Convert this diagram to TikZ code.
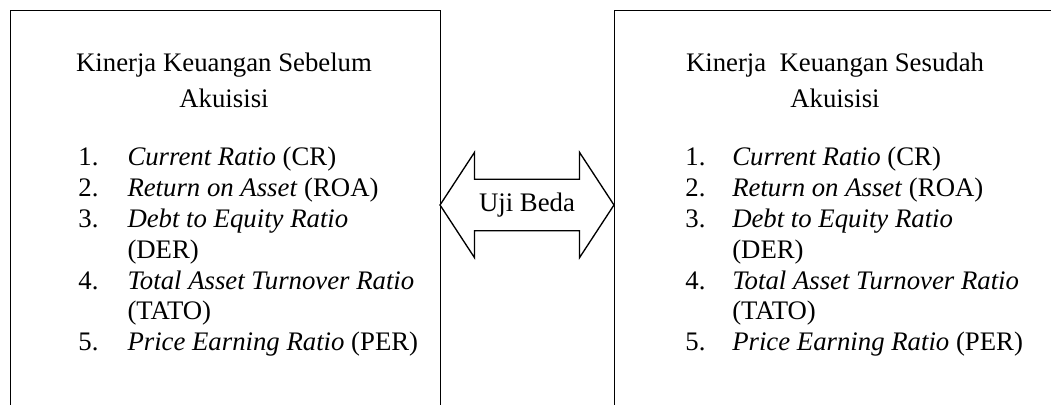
\documentclass[tikz,border=0pt]{standalone}
\usepackage{fontspec}
\setmainfont{Liberation Serif}
\usetikzlibrary{shapes.arrows}

\begin{document}
\begin{tikzpicture}[x=0.4484pt, y=-0.4484pt, font=\fontsize{12}{13.8}\selectfont,
	box/.style={draw, line width=0.6pt, rectangle, inner sep=0pt, anchor=north west},
	judul/.style={anchor=base, inner sep=0pt},
	daftar/.style={anchor=base west, inner sep=0pt}]
		\useasboundingbox (0,0) rectangle (1051,405);
		\clip (0,0) rectangle (1051,405);
		
		\node[box, minimum width=192.8pt, minimum height=200pt] (sebelum) at (10,10) {};
		\node[box, minimum width=200pt, minimum height=200pt] (sesudah) at (614,10) {};
		
		\node[judul] (judulsebelum) at (224,72) {\begin{tabular}[t]{@{}c@{}}Kinerja Keuangan Sebelum\\[1.9pt] Akuisisi\end{tabular}};
		\node[judul] (judulsesudah) at (835,72) {\begin{tabular}[t]{@{}c@{}}Kinerja\ \ Keuangan Sesudah\\[1.9pt] Akuisisi\end{tabular}};
		
		\node[daftar] (rasiosebelum) at (78,166) {\begin{tabular}[t]{@{}p{22pt}@{}l@{}}
			1. & \textit{Current Ratio} (CR)\\
			2. & \textit{Return on Asset} (ROA)\\
			3. & \textit{Debt to Equity Ratio}\\
			   & (DER)\\
			4. & \textit{Total Asset Turnover Ratio}\\
			   & (TATO)\\
			5. & \textit{Price Earning Ratio} (PER)
		\end{tabular}};
		\node[daftar] (rasiosesudah) at (685,166) {\begin{tabular}[t]{@{}p{21pt}@{}l@{}}
			1. & \textit{Current Ratio} (CR)\\
			2. & \textit{Return on Asset} (ROA)\\
			3. & \textit{Debt to Equity Ratio}\\
			   & (DER)\\
			4. & \textit{Total Asset Turnover Ratio}\\
			   & (TATO)\\
			5. & \textit{Price Earning Ratio} (PER)
		\end{tabular}};
		
		\node[draw, double arrow, line width=0.6pt, fill=white, inner xsep=2pt, inner ysep=5.8pt,
			minimum height=78pt, double arrow head extend=12.1pt, double arrow tip angle=113.6] (uji) at (527,205) {Uji Beda};
		
	\end{tikzpicture}
\end{document}
